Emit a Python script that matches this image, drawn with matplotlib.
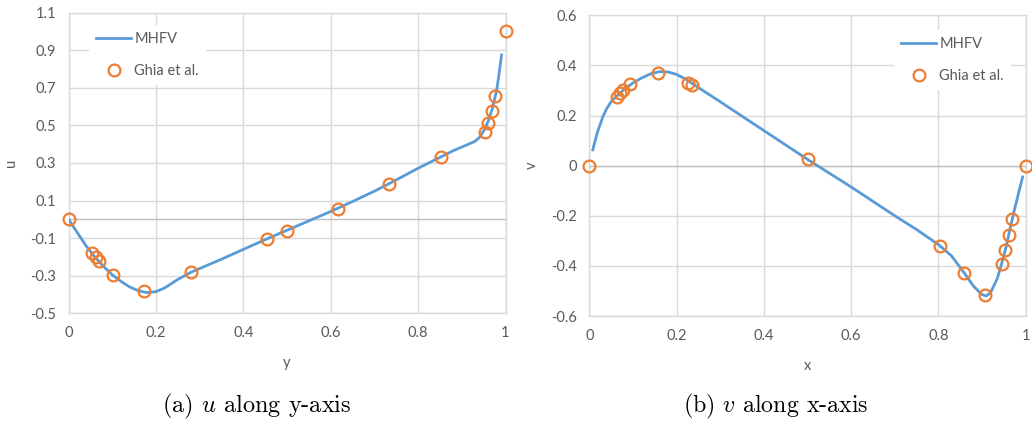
import numpy as np
import matplotlib.pyplot as plt

plt.rcParams['mathtext.fontset'] = 'cm'

# --- datos: u a lo largo del eje y ---
y_mhfv = [0, 0.02, 0.04, 0.06, 0.08, 0.10, 0.12, 0.14, 0.16, 0.18, 0.20, 0.22, 0.25,
          0.28, 0.30, 0.35, 0.40, 0.45, 0.50, 0.55, 0.60, 0.65, 0.70, 0.75, 0.80,
          0.85, 0.88, 0.91, 0.93, 0.94, 0.95, 0.96, 0.97, 0.98, 0.985, 0.991]
u_mhfv = [0, -0.07, -0.14, -0.20, -0.25, -0.295, -0.33, -0.36, -0.38, -0.39, -0.385, -0.365, -0.32,
          -0.282, -0.262, -0.212, -0.16, -0.108, -0.058, -0.008, 0.042, 0.095, 0.15, 0.21, 0.272,
          0.33, 0.365, 0.395, 0.415, 0.435, 0.47, 0.52, 0.59, 0.69, 0.77, 0.875]

y_ghia = [0, 0.0547, 0.0625, 0.0703, 0.1016, 0.1719, 0.2813, 0.4531, 0.5, 0.6172,
          0.7344, 0.8516, 0.9531, 0.9609, 0.9688, 0.9766, 1.0]
u_ghia = [0, -0.18109, -0.20196, -0.2222, -0.2973, -0.38289, -0.27805, -0.10648, -0.0608,
          0.05702, 0.18719, 0.33304, 0.46604, 0.51117, 0.57492, 0.65928, 1.0]

# --- datos: v a lo largo del eje x ---
x_mhfv = [0.008, 0.012, 0.018, 0.025, 0.031, 0.04, 0.05, 0.0625, 0.08, 0.10, 0.12, 0.14, 0.16,
          0.18, 0.20, 0.22, 0.24, 0.30, 0.40, 0.50, 0.60, 0.70, 0.75, 0.80, 0.83, 0.86, 0.88,
          0.90, 0.91, 0.92, 0.935, 0.945, 0.955, 0.965, 0.975, 0.985, 0.993]
v_mhfv = [0.063, 0.09, 0.13, 0.165, 0.195, 0.228, 0.255, 0.277, 0.305, 0.33, 0.35, 0.366, 0.375,
          0.374, 0.364, 0.346, 0.323, 0.255, 0.14, 0.025, -0.085, -0.2, -0.255, -0.315, -0.36,
          -0.43, -0.48, -0.515, -0.52, -0.505, -0.45, -0.39, -0.325, -0.245, -0.17, -0.1, -0.045]

x_ghia = [0, 0.0625, 0.0703, 0.0781, 0.0938, 0.1563, 0.2266, 0.2344, 0.5, 0.8047,
          0.8594, 0.9063, 0.9453, 0.9531, 0.9609, 0.9688, 1.0]
v_ghia = [0, 0.27485, 0.29012, 0.30353, 0.32627, 0.37095, 0.33075, 0.32235, 0.02526,
          -0.31966, -0.42665, -0.5155, -0.39188, -0.33714, -0.27669, -0.21388, 0]

x_ticks = [0, 0.2, 0.4, 0.6, 0.8, 1]
x_labels = ['0', '0.2', '0.4', '0.6', '0.8', '1']
u_ticks = [-0.5, -0.3, -0.1, 0.1, 0.3, 0.5, 0.7, 0.9, 1.1]
u_labels = ['-0.5', '-0.3', '-0.1', '0.1', '0.3', '0.5', '0.7', '0.9', '1.1']
v_ticks = [-0.6, -0.4, -0.2, 0, 0.2, 0.4, 0.6]
v_labels = ['-0.6', '-0.4', '-0.2', '0', '0.2', '0.4', '0.6']

blue = '#5B9BD5'
orange = '#ED7D31'
grid_c = '#D9D9D9'
txt_c = '#595959'
fuente = 'Lato'
W, H = 1032, 426

fig = plt.figure(figsize=(W / 100, H / 100), dpi=100)
ax1 = fig.add_axes([68.5 / W, 1 - 313.3 / H, 437 / W, 300.6 / H])
ax2 = fig.add_axes([589.3 / W, 1 - 316 / H, 436.4 / W, 300.7 / H])


def estilo(ax, yt, yl, ylim, xlabel, ylabel):
    ax.set_xlim(0, 1)
    ax.set_ylim(*ylim)
    ax.set_xticks(x_ticks)
    ax.set_xticklabels(x_labels, fontfamily=fuente, fontsize=10.5, color=txt_c)
    ax.set_yticks(yt)
    ax.set_yticklabels(yl, fontfamily=fuente, fontsize=10.5, color=txt_c)
    ax.tick_params(length=0, pad=9)
    ax.grid(color=grid_c, linewidth=1)
    ax.set_axisbelow(True)
    for s in ax.spines.values():
        s.set_color(grid_c)
        s.set_linewidth(1)
    ax.axhline(0, color='#BFBFBF', linewidth=1, zorder=1)
    ax.set_xlabel(xlabel, fontfamily=fuente, fontsize=10.5, color=txt_c, labelpad=12)
    ax.set_ylabel(ylabel, fontfamily=fuente, fontsize=10.5, color=txt_c, labelpad=9)


ax1.plot(y_mhfv, u_mhfv, color=blue, linewidth=2, label='MHFV', zorder=3)
ax1.plot(y_ghia, u_ghia, linestyle='none', marker='o', markersize=8.5, markerfacecolor='none',
         markeredgecolor=orange, markeredgewidth=1.6, label='Ghia et al.', clip_on=False, zorder=4)
estilo(ax1, u_ticks, u_labels, (-0.5, 1.1), 'y', 'u')

ax2.plot(x_mhfv, v_mhfv, color=blue, linewidth=2, label='MHFV', zorder=3)
ax2.plot(x_ghia, v_ghia, linestyle='none', marker='o', markersize=8.5, markerfacecolor='none',
         markeredgecolor=orange, markeredgewidth=1.6, label='Ghia et al.', clip_on=False, zorder=4)
estilo(ax2, v_ticks, v_labels, (-0.6, 0.6), 'x', 'v')

# leyendas: esquina superior izquierda en pixeles de la figura
for ax, (px, py) in [(ax1, (89, 25)), (ax2, (894, 30))]:
    leg = ax.legend(loc='upper left', bbox_to_anchor=(px / W, 1 - py / H),
                    bbox_transform=fig.transFigure, borderaxespad=0,
                    frameon=True, fancybox=False, handlelength=2.4, handletextpad=0.2,
                    labelspacing=1.2, borderpad=0.5, prop={'family': fuente, 'size': 10.5})
    leg.get_frame().set_facecolor('white')
    leg.get_frame().set_edgecolor('none')
    leg.get_frame().set_alpha(1)
    for t in leg.get_texts():
        t.set_color(txt_c)

# pies de figura, ajustados al ancho del original
caps = [('(a) $u$ along y-axis', 162, 352), ('(b) $v$ along x-axis', 683, 869)]
textos = []
for s, x0, x1 in caps:
    t = fig.text(x0 / W, 1 - 412 / H, s, fontfamily='cmr10', fontsize=14,
                 ha='left', va='baseline')
    textos.append((t, x0, x1))
fig.canvas.draw()
r = fig.canvas.get_renderer()
for t, x0, x1 in textos:
    bb = t.get_window_extent(r)
    t.set_fontsize(14 * (x1 - x0) / bb.width)

fig.savefig('out.png', dpi=100)
